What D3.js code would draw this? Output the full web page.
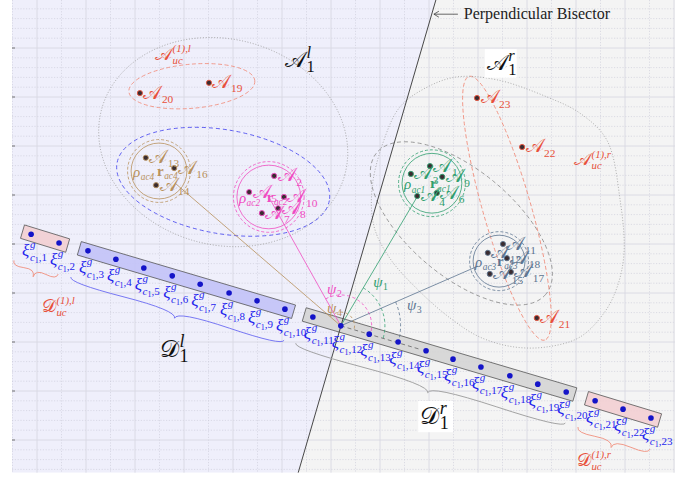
<!DOCTYPE html>
<html><head><meta charset="utf-8">
<script src="https://cdn.jsdelivr.net/npm/d3@7"></script>
<style>body{margin:0;background:#fff}svg{display:block}</style>
</head><body>
<svg id="c" width="697" height="479"></svg>
<script>
// ---------------- DATA (grid units) ----------------
const plotX = [0.49, 14.02];
const plotY = [0.33, 9.98];
const majorX = [1,2,3,4,5,6,7,8,9,10,11,12,13,14];
const majorY = [1,2,3,4,5,6,7,8,9];
const bisector = [[9.14, 9.98], [6.33, 0.33]];

// gateway points xi_{c1,1..23}
const xiX = [0.88,1.45,2.04,2.61,3.18,3.76,4.33,4.92,5.49,6.06,6.63,7.20,7.78,8.37,8.94,9.49,10.06,10.65,11.22,11.80,12.39,12.96,13.53];
const xiY = [5.20,5.02,4.86,4.69,4.51,4.35,4.18,4.00,3.84,3.67,3.51,3.33,3.16,3.00,2.82,2.65,2.49,2.31,2.14,1.98,1.80,1.63,1.45];
const hubIndex = 12;
// bar groups (1-based xi indices)
const barFrom = [1, 3, 11, 21];
const barTo   = [2, 10, 20, 23];
const barKind = ["ucl", "l", "r", "ucr"];

// agents A_1..A_23
const aX = [9.02,5.84,8.63,8.76,5.33,9.16,5.59,5.92,9.27,6.04,10.51,10.20,3.22,3.43,10.24,3.80,10.67,10.59,4.51,3.10,11.20,10.90,9.98];
const aY = [6.59,6.39,6.43,5.98,6.06,6.04,5.63,5.73,6.37,5.96,5.00,4.82,6.76,6.20,4.39,6.55,4.43,4.71,8.29,8.08,3.49,6.98,7.98];
const aGroup = ["ac1","ac2","ac1","ac1","ac2","ac1","ac2","ac2","ac1","ac2","ac3","ac3","ac4","ac4","ac3","ac4","ac3","ac3","uc","uc","uc","uc","uc"];

// clusters
const clName = ["ac1","ac2","ac3","ac4"];
const clCX = [9.06, 5.73, 10.43, 3.49];
const clCY = [6.24, 5.96, 4.65, 6.49];
const clR  = [0.61, 0.65, 0.53, 0.57];
const clAnchorX = [8.78, 5.73, 10.00, 3.82];
const clAnchorY = [6.00, 5.96, 4.55, 6.24];
const psiName = ["1","2","3","4"];
const psiR = [0.90, 0.63, 1.22, 0.28];
const psiLabelX = [7.86, 6.92, 8.55, 6.92];
const psiLabelY = [4.12, 3.98, 3.65, 3.59];

// ellipses: [cx, cy, rx, ry, rotationDeg]
const ellLeftOuter = [4.80, 7.08, 2.57, 2.10, 15];
const ellLeftUC    = [4.16, 8.22, 1.29, 0.45, -5];
const ellLeftBlue  = [4.80, 6.27, 2.20, 1.06, 10];
const ellRightGrey = [9.66, 5.42, 2.25, 1.08, 40];
const ellRightUC   = [10.59, 5.73, 2.80, 0.49, 74];
// right outer dotted region boundary
const regX = [7.84,8.08,8.41,8.96,9.57,10.39,11.41,12.08,12.63,12.90,12.98,12.84,12.57,12.08,11.41,10.73,10.04,9.43,8.78,8.20,7.88];
const regY = [6.16,7.12,7.80,8.20,8.41,8.35,8.00,7.67,7.12,5.90,4.82,4.12,3.59,3.10,2.90,2.90,3.10,3.49,4.06,4.71,5.35];

// text labels
const bigLabels = [
  {t:"𝒜", sub:"1", sup:"l", x:6.06, y:8.61, c:"#111", s:22, box:false},
  {t:"𝒜", sub:"1", sup:"r", x:10.18, y:8.55, c:"#111", s:22, box:true},
  {t:"𝒟", sub:"1", sup:"l", x:3.51, y:2.69, c:"#111", s:24, box:false},
  {t:"𝒟", sub:"1", sup:"r", x:8.82, y:1.33, c:"#111", s:24, box:true},
  {t:"𝒜", sub:"uc", sup:"(1),l", x:3.41, y:8.76, c:"#e8503a", s:18, box:false},
  {t:"𝒜", sub:"uc", sup:"(1),r", x:11.96, y:6.61, c:"#e8503a", s:18, box:false},
  {t:"𝒟", sub:"uc", sup:"(1),l", x:1.10, y:3.62, c:"#e8503a", s:18, box:false},
  {t:"𝒟", sub:"uc", sup:"(1),r", x:12.02, y:0.47, c:"#e8503a", s:18, box:false}
];
const bisectorText = "Perpendicular Bisector";
const bisectorTextPos = [9.71, 9.59];
const arrowFrom = [9.59, 9.69];
const arrowTo = [9.10, 9.69];

// ---------------- STYLE ----------------
const COL = {ac1:"#2f9e6e", ac2:"#f04cc2", ac3:"#5d7590", ac4:"#b8915c", uc:"#e8503a"};
const SERIF = "'Liberation Serif','DejaVu Serif',serif";
const XICOL = "#2424ee";

// ---------------- SCALES ----------------
const x = d3.scaleLinear().domain([0, 14]).range([-12, 674]);
const y = d3.scaleLinear().domain([0, 10]).range([489, -1]);
const unit = x(1) - x(0);
const P = (a, b) => [x(a), y(b)];
const svg = d3.select("#c");

// clip
svg.append("clipPath").attr("id","clip").append("rect")
  .attr("x", x(plotX[0])).attr("y", y(plotY[1]))
  .attr("width", x(plotX[1]) - x(plotX[0])).attr("height", y(plotY[0]) - y(plotY[1]));
const plot = svg.append("g").attr("clip-path","url(#clip)");

// backgrounds split by bisector
const bt = P(...bisector[0]), bb = P(...bisector[1]);
const X0 = x(plotX[0]), X1 = x(plotX[1]), Y0 = y(plotY[1]), Y1 = y(plotY[0]);
plot.append("polygon").attr("points", [[X0,Y0],bt,bb,[X0,Y1]].map(p=>p.join(",")).join(" ")).attr("fill","#efeffb");
plot.append("polygon").attr("points", [bt,[X1,Y0],[X1,Y1],bb].map(p=>p.join(",")).join(" ")).attr("fill","#f4f4f4");

// grid
const minorX = d3.range(plotX[0], plotX[1], 0.5).map(v=>Math.round(v*2)/2).filter(v=>!Number.isInteger(v));
const minorY = d3.range(0, 10.01, 0.2).map(v=>Math.round(v*5)/5).filter(v=>Math.abs(v-Math.round(v))>0.01);
plot.selectAll(".mnx").data(minorX).join("line").attr("x1",d=>x(d)).attr("x2",d=>x(d)).attr("y1",Y0).attr("y2",Y1)
  .attr("stroke","#c9c9d6").attr("stroke-width",0.6).attr("stroke-dasharray","1.2,1.6");
plot.selectAll(".mny").data(minorY).join("line").attr("y1",d=>y(d)).attr("y2",d=>y(d)).attr("x1",X0).attr("x2",X1)
  .attr("stroke","#c9c9d6").attr("stroke-width",0.6).attr("stroke-dasharray","1.2,1.6");
plot.selectAll(".mjx").data(majorX).join("line").attr("x1",d=>x(d)).attr("x2",d=>x(d)).attr("y1",Y0).attr("y2",Y1)
  .attr("stroke","#d8d8e2").attr("stroke-width",0.9);
plot.selectAll(".mjy").data(majorY).join("line").attr("y1",d=>y(d)).attr("y2",d=>y(d)).attr("x1",X0).attr("x2",X1)
  .attr("stroke","#d8d8e2").attr("stroke-width",0.9);
svg.selectAll(".tk").data(majorY).join("line").attr("y1",d=>y(d)).attr("y2",d=>y(d)).attr("x1",X0).attr("x2",X0+3)
  .attr("stroke","#555").attr("stroke-width",0.8);

// ellipses
function ell(e, stroke, dash, w){
  plot.append("ellipse").attr("transform",`translate(${x(e[0])},${y(e[1])}) rotate(${e[4]})`)
    .attr("rx", e[2]*unit).attr("ry", e[3]*unit).attr("fill","none")
    .attr("stroke",stroke).attr("stroke-width",w||0.8).attr("stroke-dasharray",dash);
}
ell(ellLeftOuter, "#9a9a9a", "1,1.8", 0.8);
ell(ellLeftUC, "#f08a78", "4,2.5", 0.8);
ell(ellLeftBlue, "#5a5af0", "4,3", 0.9);
ell(ellRightGrey, "#8d8d8d", "4,3", 0.8);
ell(ellRightUC, "#f08a78", "4,2.5", 0.8);
plot.append("path").attr("d", d3.line().curve(d3.curveCatmullRomClosed)(regX.map((v,i)=>P(v,regY[i]))))
  .attr("fill","none").attr("stroke","#9a9a9a").attr("stroke-width",0.8).attr("stroke-dasharray","1,1.8");

// cluster circles
clName.forEach((c,i)=>{
  const [cx,cy] = P(clCX[i], clCY[i]);
  plot.append("circle").attr("cx",cx).attr("cy",cy).attr("r",clR[i]*unit+3.5).attr("fill","none")
    .attr("stroke",COL[c]).attr("stroke-width",0.8).attr("stroke-dasharray","3,2");
  plot.append("circle").attr("cx",cx).attr("cy",cy).attr("r",clR[i]*unit).attr("fill","none")
    .attr("stroke",COL[c]).attr("stroke-width",0.8);
});

// bars
const pFirst = P(xiX[0], xiY[0]), pLast = P(xiX[22], xiY[22]);
const Ld = Math.hypot(pLast[0]-pFirst[0], pLast[1]-pFirst[1]);
const u = [(pLast[0]-pFirst[0])/Ld, (pLast[1]-pFirst[1])/Ld];
const n = [-u[1], u[0]];
const barFill = {ucl:"#f2cfd2", l:"#c3c3f7", r:"#d5d5d5", ucr:"#f2cfd2"};
const braceCol = {ucl:"#f0907e", l:"#6a6af2", r:"#9a9a9a", ucr:"#f0907e"};
const add = (p, a, b) => [p[0] + a*u[0] + b*n[0], p[1] + a*u[1] + b*n[1]];
barFrom.forEach((f,i)=>{
  const p0 = P(xiX[f-1], xiY[f-1]), p1 = P(xiX[barTo[i]-1], xiY[barTo[i]-1]);
  const pts = [add(p0,-9,-7), add(p1,9,-7), add(p1,9,7), add(p0,-9,7)];
  plot.append("polygon").attr("points", pts.map(p=>p.join(",")).join(" "))
    .attr("fill", barFill[barKind[i]]).attr("fill-opacity",0.92).attr("stroke","#555").attr("stroke-width",0.8);
});

// bisector
plot.append("line").attr("x1",bt[0]).attr("y1",bt[1]).attr("x2",bb[0]).attr("y2",bb[1]).attr("stroke","#333").attr("stroke-width",0.9);

// braces
function bracePath(x1,y1,x2,y2,w,q){
  let dx=x1-x2, dy=y1-y2; const len=Math.hypot(dx,dy); dx/=len; dy/=len;
  const qx1=x1+q*w*dy, qy1=y1-q*w*dx;
  const qx2=(x1-.25*len*dx)+(1-q)*w*dy, qy2=(y1-.25*len*dy)-(1-q)*w*dx;
  const tx1=(x1-.5*len*dx)+w*dy, ty1=(y1-.5*len*dy)-w*dx;
  const qx3=x2+q*w*dy, qy3=y2-q*w*dx;
  const qx4=(x1-.75*len*dx)+(1-q)*w*dy, qy4=(y1-.75*len*dy)-(1-q)*w*dx;
  return `M${x1},${y1}Q${qx1},${qy1} ${qx2},${qy2}T${tx1},${ty1}M${x2},${y2}Q${qx3},${qy3} ${qx4},${qy4}T${tx1},${ty1}`;
}
barFrom.forEach((f,i)=>{
  const p0 = P(xiX[f-1], xiY[f-1]), p1 = P(xiX[barTo[i]-1], xiY[barTo[i]-1]);
  const s = add(p0,-9,30), e = add(p1,8,30);
  plot.append("path").attr("d", bracePath(s[0],s[1],e[0],e[1],10,0.6)).attr("fill","none")
    .attr("stroke", braceCol[barKind[i]]).attr("stroke-width",0.9);
});

// lines from hub to clusters + psi arcs
const hub = P(xiX[hubIndex-1], xiY[hubIndex-1]);
const refAng = Math.atan2(u[1], u[0]);
const refEnd = [hub[0]+84*u[0], hub[1]+84*u[1]];
plot.append("line").attr("x1",hub[0]).attr("y1",hub[1]).attr("x2",refEnd[0]).attr("y2",refEnd[1])
  .attr("stroke","#666").attr("stroke-width",0.8).attr("stroke-dasharray","4,3");
clName.forEach((c,i)=>{
  const a = P(clAnchorX[i], clAnchorY[i]);
  plot.append("line").attr("x1",hub[0]).attr("y1",hub[1]).attr("x2",a[0]).attr("y2",a[1])
    .attr("stroke",COL[c]).attr("stroke-width",0.8);
  const ang = Math.atan2(a[1]-hub[1], a[0]-hub[0]);
  const r = psiR[i]*unit;
  const s = [hub[0]+r*Math.cos(ang), hub[1]+r*Math.sin(ang)];
  const e = [hub[0]+r*Math.cos(refAng), hub[1]+r*Math.sin(refAng)];
  const large = (refAng-ang) > Math.PI ? 1 : 0;
  plot.append("path").attr("d",`M${s[0]},${s[1]}A${r},${r} 0 ${large} 1 ${e[0]},${e[1]}`)
    .attr("fill","none").attr("stroke",COL[c]).attr("stroke-width",0.8).attr("stroke-dasharray","3,2.5");
});

// xi dots
plot.selectAll(".xi").data(xiX).join("circle").attr("cx",(d,i)=>x(d)).attr("cy",(d,i)=>y(xiY[i]))
  .attr("r",2.8).attr("fill","#1414c8");

// agent points
plot.selectAll(".ag").data(aX).join("circle").attr("cx",d=>x(d)).attr("cy",(d,i)=>y(aY[i]))
  .attr("r",2.6).attr("fill","#3a2c30").attr("stroke",(d,i)=>COL[aGroup[i]]).attr("stroke-width",0.9);

// ---------- text helpers ----------
const T = svg.append("g");
function mathLabel(px, py, base, sub, sup, size, color, opts){
  opts = opts || {};
  const t = T.append("text").attr("x",px).attr("y",py).attr("font-family",SERIF).attr("font-size",size)
    .attr("fill",color).attr("font-style",opts.italic?"italic":"normal").attr("font-weight",opts.bold?"bold":"normal").text(base);
  const w = t.node().getComputedTextLength();
  const ss = size*(opts.ratio||0.62);
  if (sup) T.append("text").attr("x",px+w+0.5).attr("y",py-size*0.42).attr("font-family",SERIF)
    .attr("font-size",ss).attr("fill",color).attr("font-style","italic").text(sup);
  if (sub) T.append("text").attr("x",px+w+0.5).attr("y",py+size*0.22).attr("font-family",SERIF)
    .attr("font-size",ss).attr("fill",color).attr("font-style",opts.subItalic===false?"normal":"italic").text(sub);
  return w;
}

// agent labels
aX.forEach((d,i)=>{
  const [px,py] = P(d, aY[i]);
  mathLabel(px+3.5, py+5.5, "𝒜", String(i+1), null, 19, COL[aGroup[i]], {subItalic:false, ratio:0.6});
});

// cluster rho / r labels
clName.forEach((c,i)=>{
  const [cx,cy] = P(clCX[i], clCY[i]);
  const r = clR[i]*unit;
  mathLabel(cx-r+2, cy+6, "ρ", c, null, 15, COL[c], {italic:true, ratio:0.62});
  mathLabel(cx-2, cy+5, "r", c, null, 15, COL[c], {bold:true, ratio:0.62});
});

// psi labels
psiName.forEach((s,i)=>{
  mathLabel(x(psiLabelX[i]), y(psiLabelY[i]), "ψ", s, null, 15, COL[clName[i]], {italic:true, subItalic:false, ratio:0.65});
});

// xi labels
xiX.forEach((d,i)=>{
  const [px,py] = P(d, xiY[i]);
  const bx = px-9, by = py+22;
  const t = T.append("text").attr("x",bx).attr("y",by).attr("font-family",SERIF).attr("font-style","italic")
    .attr("font-size",17).attr("fill",XICOL).text("ξ");
  const w = t.node().getComputedTextLength();
  T.append("text").attr("x",bx+w+0.5).attr("y",by-8).attr("font-family",SERIF).attr("font-style","italic")
    .attr("font-size",11).attr("fill",XICOL).text("g");
  const st = T.append("text").attr("x",bx+w+0.5).attr("y",by+5).attr("font-family",SERIF)
    .attr("font-size",11).attr("fill",XICOL);
  st.append("tspan").attr("font-style","italic").text("c");
  st.append("tspan").attr("font-size",8).attr("dy",2).text("1");
  st.append("tspan").attr("dy",-2).text(","+(i+1));
});

// big labels
bigLabels.forEach(L=>{
  const px = x(L.x), py = y(L.y);
  if (L.box) T.append("rect").attr("x",px-2).attr("y",py-L.s*0.95).attr("width",L.s*1.45).attr("height",L.s*1.3).attr("fill","#fff");
  mathLabel(px, py, L.t, L.sub, L.sup, L.s, L.c, {subItalic: !(L.sub==="1"), ratio: L.sub==="1"?0.75:0.6});
});

// bisector annotation
T.append("text").attr("x",x(bisectorTextPos[0])).attr("y",y(bisectorTextPos[1])).attr("font-family",SERIF)
  .attr("font-size",16).attr("fill","#222").text(bisectorText);
const af = P(...arrowFrom), at = P(...arrowTo);
T.append("line").attr("x1",af[0]).attr("y1",af[1]).attr("x2",at[0]).attr("y2",at[1]).attr("stroke","#444").attr("stroke-width",0.8);
T.append("path").attr("d",`M${at[0]+5},${at[1]-3}L${at[0]},${at[1]}L${at[0]+5},${at[1]+3}`).attr("fill","none").attr("stroke","#444").attr("stroke-width",0.8);
</script>
</body></html>
